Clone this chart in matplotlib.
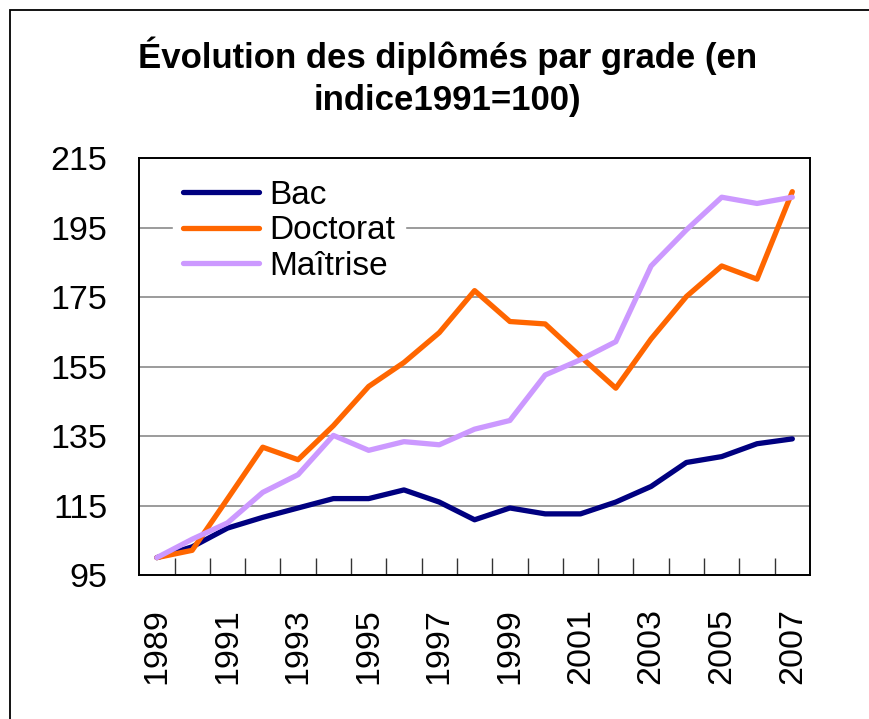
import numpy as np
import matplotlib.pyplot as plt
from matplotlib.patches import Rectangle

plt.rcParams['font.family'] = ['Liberation Sans', 'DejaVu Sans']

years = list(range(1989, 2008))
bac = [100, 103.1, 108.5, 111.6, 114.3, 117.0, 117.0, 119.5, 116.0, 110.9,
       114.3, 112.6, 112.6, 116.0, 120.5, 127.4, 129.1, 132.8, 134.2]
doctorat = [100, 102.1, 116.9, 131.8, 128.2, 138.0, 149.3, 156.2, 164.8, 176.9,
            168.0, 167.3, 157.9, 148.8, 163.0, 175.2, 184.0, 180.2, 205.4]
maitrise = [100, 105.3, 110.0, 118.8, 123.9, 135.2, 130.9, 133.4, 132.5, 137.0,
            139.5, 152.6, 157.0, 162.2, 184.0, 194.4, 203.8, 202.0, 203.8]
yticks = [95, 115, 135, 155, 175, 195, 215]

fig = plt.figure(figsize=(8.7, 7.19), dpi=100)
ax = fig.add_axes([0.160, 0.2003, 0.771, 0.5795])

x = np.arange(len(years))
kw = dict(lw=3.8, solid_capstyle='round', solid_joinstyle='round')
ax.plot(x, bac, color='#000080', label='Bac', **kw)
ax.plot(x, doctorat, color='#FF6600', label='Doctorat', **kw)
ax.plot(x, maitrise, color='#CC99FF', label='Maîtrise', **kw)

ax.set_xlim(-0.5, len(years) - 0.5)
ax.set_ylim(95, 215)
ax.set_yticks(yticks)
ax.set_yticklabels([str(v) for v in yticks], fontsize=24.5)
ax.yaxis.grid(True, color='#808080', lw=1.1)
ax.set_axisbelow(True)
ax.tick_params(axis='y', length=0, pad=23)

# category ticks between years, labels every other year
ax.set_xticks(x[:-1] + 0.5)
ax.set_xticklabels([])
ax.tick_params(axis='x', which='major', direction='in', length=12, width=1, color='#333333')
ax.set_xticks(x[::2], minor=True)
ax.set_xticklabels([str(y) for y in years[::2]], minor=True, rotation=90, fontsize=24.5)
ax.tick_params(axis='x', which='minor', length=0, pad=24)

for s in ax.spines.values():
    s.set_linewidth(1.4)
    s.set_color('black')

leg = ax.legend(loc='upper left', bbox_to_anchor=(0.035, 0.997), fontsize=24,
                frameon=True, fancybox=False, handlelength=2.3, handletextpad=0.3,
                labelspacing=0.14, borderaxespad=0.3, borderpad=0.3)
leg.get_frame().set_edgecolor('white')
leg.get_frame().set_facecolor('white')
leg.get_frame().set_alpha(1)

fig.text(0.514, 0.923, 'Évolution des diplômés par grade (en', ha='center', va='center',
         fontsize=25, fontweight='bold')
fig.text(0.514, 0.860, 'indice1991=100)', ha='center', va='center',
         fontsize=25, fontweight='bold')

fig.patches.append(Rectangle((10 / 870, -0.1), 1.2, 1 - 10 / 719 + 0.1,
                             transform=fig.transFigure, fill=False,
                             edgecolor='black', lw=1.3))

fig.savefig('out.png', dpi=100)
